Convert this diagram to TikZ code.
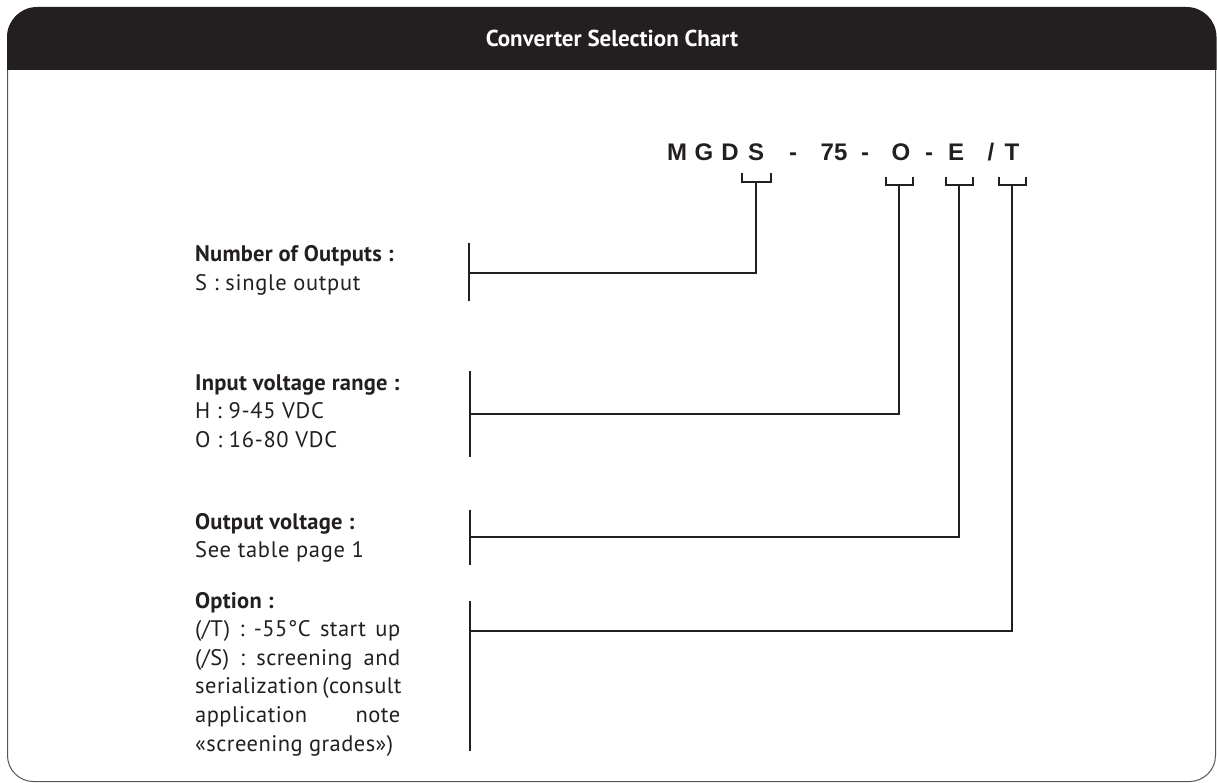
\documentclass[tikz,border=0pt]{standalone}
\usepackage{fontspec}
\setmainfont{PT Sans}
\newfontfamily\partfont{Liberation Sans}
\definecolor{ink}{HTML}{231F20}
\definecolor{framec}{HTML}{555555}
\newcommand{\regtxt}{\mdseries\addfontfeatures{LetterSpace=3}}
\newcommand{\opttxt}{\mdseries\addfontfeatures{LetterSpace=2}}
\newcommand{\bldtxt}{\bfseries\addfontfeatures{LetterSpace=1}}
\begin{document}
\begin{tikzpicture}[x=1pt,y=-1pt,
  conn/.style={draw=ink, line width=2.6pt},
  part/.style={anchor=base, inner sep=0pt, text=ink, font=\partfont\bfseries\fontsize{24}{24}\selectfont},
  lbl/.style={anchor=base west, inner sep=0pt, text=ink, font=\fontsize{22.5}{28.6}\selectfont},
  ]
\useasboundingbox (0,0) rectangle (1217,783);
% frame
\begin{scope}
\clip (0,50) rectangle (1217,783);
\draw[framec, line width=1pt, rounded corners=26pt] (7.5,7.5) rectangle (1215.5,781.5);
\end{scope}
% header
\begin{scope}
\clip (0,0) rectangle (1217,70);
\fill[ink, rounded corners=30pt] (7,7) rectangle (1216.5,140);
\end{scope}
\node[text=white, font=\bfseries\fontsize{23}{24}\selectfont] (title) at (612,38) {Converter Selection Chart};

% part number characters
\node[part] (cM) at (677,161) {M};
\node[part] (cG) at (704,161) {G};
\node[part] (cD) at (730,161) {D};
\node[part] (cS) at (756,161) {S};
\node[part] (d1) at (793,161) {-};
\node[part] (c75) at (834,161) {75};
\node[part] (d2) at (865,161) {-};
\node[part] (cO) at (901,161) {O};
\node[part] (d3) at (929,161) {-};
\node[part] (cE) at (956,161) {E};
\node[part] (sl) at (991,161) {/};
\node[part] (cT) at (1012,161) {T};

% labels
\node[lbl] (l1) at (195,262) {\parbox[t]{240pt}{\bldtxt Number of Outputs :\\ \regtxt S : single output}};
\node[lbl] (l2) at (195,390) {\parbox[t]{240pt}{\bldtxt Input voltage range :\\ \regtxt H : 9-45 VDC\\ O : 16-80 VDC}};
\node[lbl] (l3) at (195,529) {\parbox[t]{240pt}{\bldtxt Output voltage :\\ \regtxt See table page 1}};
\node[lbl] (l4) at (195,608) {\parbox[t]{240pt}{\bldtxt Option :\\ \opttxt
\makebox[205pt][s]{(/T) : -55°C start up}\\
\makebox[205pt][s]{(/S) : screening and}\\
\makebox[205pt][s]{serialization (consult}\\
\makebox[205pt][s]{application note}\\
«screening grades»)}};

% brackets
\coordinate (bS) at (756,182);
\coordinate (bO) at (899,185);
\coordinate (bE) at (959,185);
\coordinate (bT) at (1012,185);
\draw[conn] (742,173) -- (742,182) -- (771,182) -- (771,173);
\draw[conn] (886,177) -- (886,185) -- (913,185) -- (913,177);
\draw[conn] (946,177) -- (946,185) -- (973,185) -- (973,177);
\draw[conn] (999,177) -- (999,185) -- (1026,185) -- (1026,177);

% label bars
\coordinate (v1) at (469,273);
\coordinate (v2) at (470,414);
\coordinate (v3) at (470,537);
\coordinate (v4) at (470,631);
\draw[conn] (469,243) -- (469,301);
\draw[conn] (470,371) -- (470,457);
\draw[conn] (470,510) -- (470,565);
\draw[conn] (470,601) -- (470,751);

% connectors
\draw[conn] (bS) |- (v1);
\draw[conn] (bO) |- (v2);
\draw[conn] (bE) |- (v3);
\draw[conn] (bT) |- (v4);
\end{tikzpicture}
\end{document}
